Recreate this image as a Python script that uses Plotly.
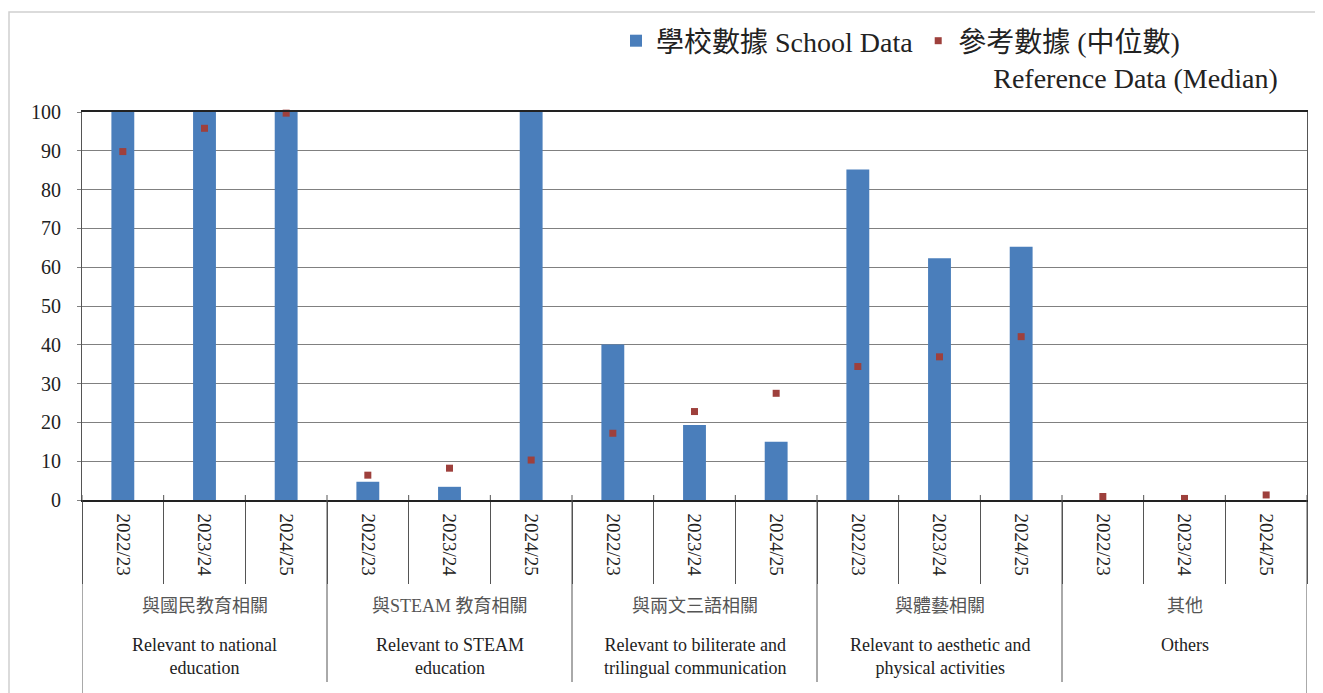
import plotly.graph_objects as go

group_zh = ["與國民教育相關", "與STEAM 教育相關", "與兩文三語相關", "與體藝相關", "其他"]
group_en = ["Relevant to national<br>education",
            "Relevant to STEAM<br>education",
            "Relevant to biliterate and<br>trilingual communication",
            "Relevant to aesthetic and<br>physical activities",
            "Others"]
years = ["2022/23", "2023/24", "2024/25"]
school = [100, 100, 100, 4.7, 3.4, 100, 40.1, 19.3, 15.0, 85.2, 62.3, 65.3, 0, 0, 0]
median = [89.8, 95.8, 99.7, 6.4, 8.2, 10.3, 17.2, 22.8, 27.5, 34.4, 36.9, 42.1, 0.9, 0.4, 1.3]
legend_names = ["學校數據 School Data",
                "參考數據 (中位數)<br>\u00a0\u00a0\u00a0\u00a0\u00a0Reference Data (Median)"]

keys = [f"{g} {y}" for g in group_zh for y in years]
ticklabels = [y for g in group_zh for y in years]

SERIF = "Liberation Serif, Times New Roman, serif"
FONT = "Liberation Serif, Noto Sans CJK TC"
OFF = 8  # page body margin
W, H = 1323 - OFF, 693 - OFF
# target screen positions of the plot area
PL, PR, PT, PB = 82, 1307, 112, 500
ML, MT = PL - OFF, PT - OFF
MR = W - (PR - OFF)
MB = H - (PB - OFF)
ph = PB - PT
pw = PR - PL

def py(sy):
    """screen y pixel -> paper y"""
    return (PB - sy) / ph

def px(sx):
    """screen x pixel -> paper x"""
    return (sx - PL) / pw

fig = go.Figure()
fig.add_trace(go.Bar(x=keys, y=school, name=legend_names[0],
                     marker=dict(color="#4a7ebb", line=dict(width=0)), width=0.28))
fig.add_trace(go.Scatter(x=keys, y=median, name=legend_names[1], mode="markers",
                         marker=dict(symbol="square", size=7, color="#9e403c"),
                         cliponaxis=False))

shapes = []
# outer light frame
shapes.append(dict(type="rect", xref="paper", yref="paper",
                   x0=px(9), x1=px(1340), y0=py(12), y1=py(720),
                   line=dict(color="#d0d0d0", width=1.5), layer="below"))
# group dividers and boundaries
n = len(years)
for i in range(len(group_zh) + 1):
    xpos = i * n - 0.5
    bottom = py(700) if i in (0, len(group_zh)) else py(682)
    shapes.append(dict(type="line", xref="x", yref="paper", x0=xpos, x1=xpos,
                       y0=0, y1=bottom, line=dict(color="#555555", width=1)))
# small inner ticks above the axis at every category boundary
for j in range(len(keys) + 1):
    shapes.append(dict(type="line", xref="x", yref="paper", x0=j - 0.5, x1=j - 0.5,
                       y0=0, y1=py(495), line=dict(color="#555555", width=1)))

annotations = []
for i, (zh, en) in enumerate(zip(group_zh, group_en)):
    mid = keys[i * n + 1]
    annotations.append(dict(x=mid, xref="x", y=py(606), yref="paper", text=zh,
                            showarrow=False, yanchor="middle",
                            font=dict(family=FONT, size=18, color="#555555")))
    annotations.append(dict(x=mid, xref="x", y=py(633), yref="paper", text=en,
                            showarrow=False, yanchor="top",
                            font=dict(family=FONT, size=18, color="#222222")))

fig.update_layout(
    width=W, height=H,
    margin=dict(l=ML, r=MR, t=MT, b=MB, autoexpand=False),
    paper_bgcolor="white", plot_bgcolor="white",
    font=dict(family=FONT, size=19, color="#222222"),
    shapes=shapes, annotations=annotations,
    showlegend=True,
    legend=dict(orientation="h", x=px(616), xanchor="left", y=py(16), yanchor="top",
                font=dict(family=FONT, size=28, color="#222222"),
                valign="top", bgcolor="rgba(0,0,0,0)", itemwidth=30,
                tracegroupgap=0),
    bargap=0.72,
)
fig.update_xaxes(type="category", tickmode="array", tickvals=keys, ticktext=ticklabels,
                 tickangle=90, ticks="outside", tickson="boundaries", ticklen=82,
                 tickcolor="#555555", tickwidth=1, ticklabelstandoff=8,
                 showline=True, linecolor="#222222", linewidth=1.5, mirror=True,
                 showgrid=False, tickfont=dict(family=SERIF, size=19, color="#222222"),
                 range=[-0.5, len(keys) - 0.5])
fig.update_yaxes(range=[0, 100], dtick=10, showgrid=True, gridcolor="#808080", gridwidth=1,
                 showline=True, linecolor="#555555", linewidth=1, mirror=True,
                 ticks="outside", ticklen=4, tickcolor="#808080", ticklabelstandoff=12,
                 tickfont=dict(family=SERIF, size=20, color="#222222"), zeroline=False)

fig.write_html("out.html")
